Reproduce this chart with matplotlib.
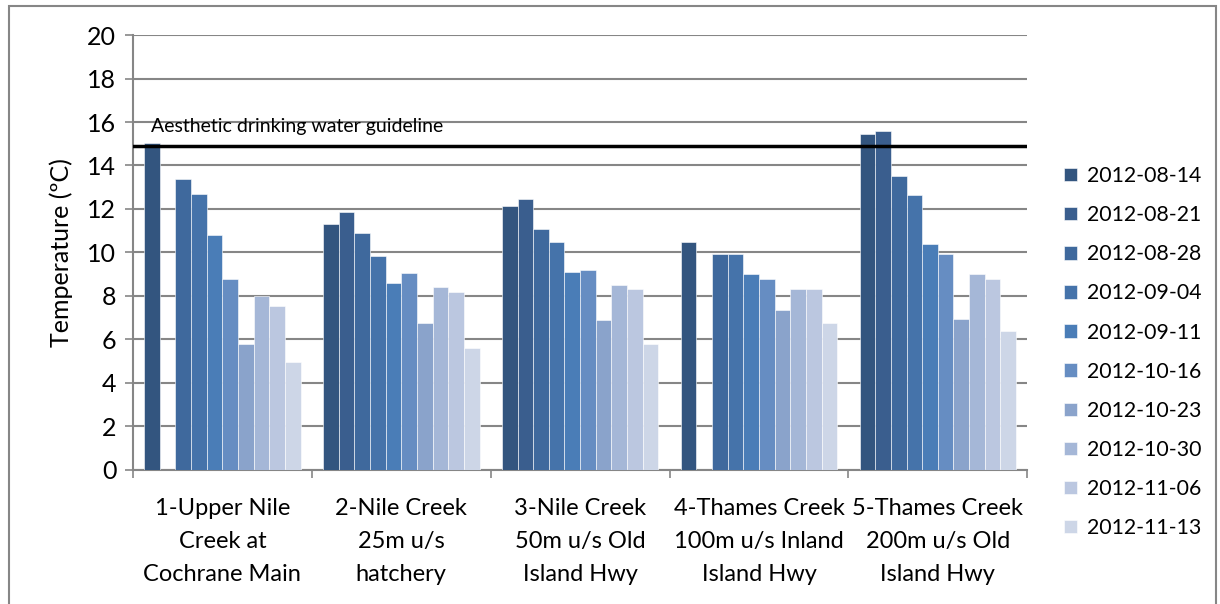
import numpy as np
import matplotlib
matplotlib.use("Agg")
import matplotlib.pyplot as plt
from matplotlib.patches import Rectangle

plt.rcParams['font.family'] = ['Lato', 'DejaVu Sans']

sites = [
    "1-Upper Nile\nCreek at\nCochrane Main",
    "2-Nile Creek\n25m u/s\nhatchery",
    "3-Nile Creek\n50m u/s Old\nIsland Hwy",
    "4-Thames Creek\n100m u/s Inland\nIsland Hwy",
    "5-Thames Creek\n200m u/s Old\nIsland Hwy",
]
dates = ["2012-08-14", "2012-08-21", "2012-08-28", "2012-09-04", "2012-09-11",
         "2012-10-16", "2012-10-23", "2012-10-30", "2012-11-06", "2012-11-13"]

# one list per site, one value per date (nan = not sampled)
site1 = [15.05, np.nan, 13.4, 12.7, 10.8, 8.8, 5.8, 8.0, 7.55, 4.95]
site2 = [11.3, 11.85, 10.9, 9.85, 8.6, 9.05, 6.75, 8.4, 8.2, 5.6]
site3 = [12.15, 12.45, 11.1, 10.5, 9.1, 9.2, 6.9, 8.5, 8.3, 5.8]
site4 = [10.5, np.nan, 9.95, 9.95, 9.0, 8.8, 7.35, 8.3, 8.3, 6.75]
site5 = [15.45, 15.6, 13.5, 12.65, 10.4, 9.95, 6.95, 9.0, 8.8, 6.4]
guideline = 14.9

colors = ["#33557f", "#3a5e8e", "#3f699d", "#4573aa", "#4a7db7",
          "#668dc2", "#8aa3cb", "#a5b7d7", "#bbc7e0", "#cdd6e7"]

values = np.array([site1, site2, site3, site4, site5])

fig = plt.figure(figsize=(12.2, 6.04), dpi=100)
ax = fig.add_axes([0.109, 0.222, 0.733, 0.720])

x = np.arange(len(sites))
w = 0.0875
for i, d in enumerate(dates):
    ax.bar(x + (i - 4.5) * w, values[:, i], width=w, color=colors[i],
           edgecolor="#ffffff", linewidth=0.4, label=d, zorder=3)

ax.axhline(guideline, color="black", linewidth=2.5, zorder=4)
ax.text(0.02, 15.4, "Aesthetic drinking water guideline", transform=ax.get_yaxis_transform(),
        fontsize=14, va="bottom", ha="left")

ax.set_xlim(-0.5, 4.5)
ax.set_ylim(0, 20)
ax.set_yticks(np.arange(0, 21, 2))
ax.yaxis.grid(True, color="#868686", linewidth=1.5, zorder=0)
ax.set_axisbelow(True)

ax.set_xticks(x)
ax.set_xticklabels(sites, fontsize=17, linespacing=1.72)
ax.set_xticks(np.arange(-0.5, 5, 1), minor=True)
ax.tick_params(axis="x", which="major", length=0, pad=20)
ax.tick_params(axis="x", which="minor", length=6, color="#868686", width=1.2)
ax.tick_params(axis="y", length=6, color="#868686", width=1.2, labelsize=18, pad=6)
ax.set_ylabel("Temperature (ºC)", fontsize=18, labelpad=10)

for s in ["top", "right"]:
    ax.spines[s].set_visible(False)
for s in ["left", "bottom"]:
    ax.spines[s].set_color("#868686")
    ax.spines[s].set_linewidth(1.5)

ax.legend(loc="upper left", bbox_to_anchor=(0.872, 0.725), bbox_transform=fig.transFigure,
          frameon=False, fontsize=15.3, labelspacing=0.9, handlelength=0.6,
          handleheight=0.6, handletextpad=0.5, borderpad=0, borderaxespad=0)

fig.patches.append(Rectangle((0.007, -0.01), 0.99, 1.0, transform=fig.transFigure,
                             fill=False, edgecolor="#868686", linewidth=1.5))

fig.savefig("out.png", dpi=100)
